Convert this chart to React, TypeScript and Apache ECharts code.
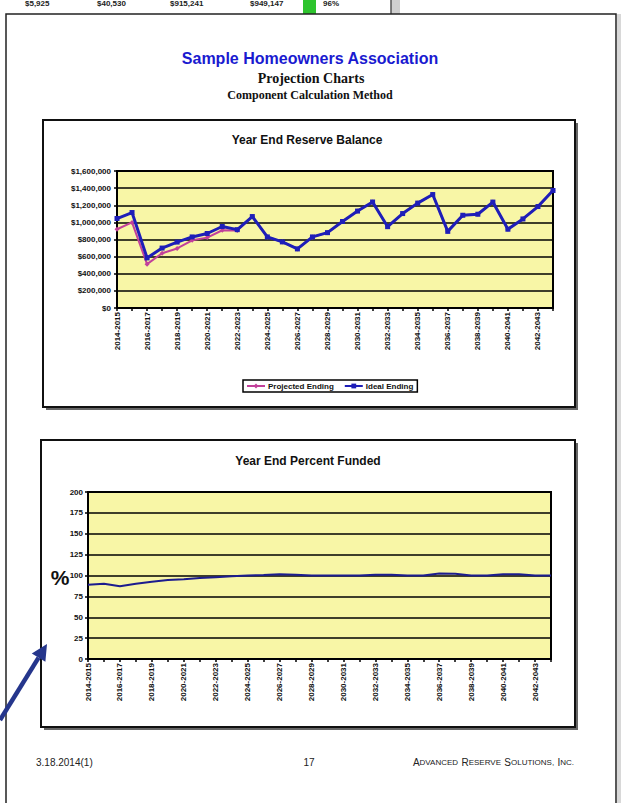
import React, { useEffect, useRef } from "react";
import * as echarts from "echarts";

const categories = [
  "2014-2015", "2015-2016", "2016-2017", "2017-2018", "2018-2019", "2019-2020",
  "2020-2021", "2021-2022", "2022-2023", "2023-2024", "2024-2025", "2025-2026",
  "2026-2027", "2027-2028", "2028-2029", "2029-2030", "2030-2031", "2031-2032",
  "2032-2033", "2033-2034", "2034-2035", "2035-2036", "2036-2037", "2037-2038",
  "2038-2039", "2039-2040", "2040-2041", "2041-2042", "2042-2043", "2043-2044",
];

const projectedEnding = [
  920000, 1000000, 512000, 640000, 695000, 790000, 822000, 908000, 905000, 1068000,
  830000, 772000, 690000, 830000, 880000, 1010000, 1132000, 1238000, 950000, 1103000,
  1225000, 1325000, 895000, 1083000, 1095000, 1237000, 920000, 1040000, 1185000, 1372000,
];

const idealEnding = [
  1045000, 1115000, 585000, 700000, 770000, 830000, 870000, 952000, 915000, 1068000,
  830000, 772000, 690000, 830000, 880000, 1010000, 1132000, 1238000, 950000, 1103000,
  1225000, 1325000, 895000, 1083000, 1095000, 1237000, 920000, 1040000, 1185000, 1372000,
];

const percentFunded = [
  89, 90, 87, 90, 92.5, 94.5, 95.5, 97, 98, 99,
  100, 100.5, 101.5, 101, 100, 100, 100, 100, 101, 101,
  100, 100, 102.5, 102, 100, 100, 101.5, 101.5, 100, 100,
];

const balanceTicks = [0, 200000, 400000, 600000, 800000, 1000000, 1200000, 1400000, 1600000];
const percentTicks = [0, 25, 50, 75, 100, 125, 150, 175, 200];

const topRowTexts = ["$5,925", "$40,530", "$915,241", "$949,147", "96%"];

const YELLOW = "#F8F6A6";
const FONT = "'Liberation Sans', Arial, sans-serif";
const SERIF = "'Liberation Serif', 'Times New Roman', serif";

function fmtMoney(v: number) {
  return "$" + v.toLocaleString("en-US");
}

export default function App() {
  const ref = useRef<HTMLDivElement>(null);
  useEffect(() => {
    if (!ref.current) return;
    const chart = echarts.init(ref.current, undefined, { renderer: "svg" });

    // arrow geometry (decoration)
    const tip = [47, 644];
    const tail = [0, 720];
    const dx = tip[0] - tail[0];
    const dy = tip[1] - tail[1];
    const len = Math.sqrt(dx * dx + dy * dy);
    const ux = dx / len, uy = dy / len;
    const px = -uy, py = ux;
    const headLen = 16, headW = 8;
    const base = [tip[0] - ux * headLen, tip[1] - uy * headLen];

    const topRowX = [25, 97, 170, 250, 323];

    const xAxisCommon = {
      type: "category" as const,
      data: categories,
      boundaryGap: false,
      z: 12,
      axisLine: { show: true, lineStyle: { color: "#000", width: 2 } },
      axisTick: { show: true, interval: 0, length: 3, lineStyle: { color: "#000", width: 1.5 } },
      axisLabel: {
        interval: 1,
        rotate: 90,
        fontSize: 8,
        fontWeight: "bold" as const,
        color: "#111",
        fontFamily: FONT,
        margin: 4,
      },
      splitLine: { show: false },
    };

    const option: any = {
      animation: false,
      backgroundColor: "#ffffff",
      grid: [
        {
          left: 117, top: 171, width: 436, height: 137, z: 10,
          show: true, backgroundColor: YELLOW, borderColor: "#000", borderWidth: 2,
        },
        {
          left: 88, top: 492, width: 463, height: 167, z: 10,
          show: true, backgroundColor: YELLOW, borderColor: "#000", borderWidth: 2,
        },
      ],
      xAxis: [
        { ...xAxisCommon, gridIndex: 0 },
        { ...xAxisCommon, gridIndex: 1 },
      ],
      yAxis: [
        {
          type: "value", gridIndex: 0, z: 12,
          min: balanceTicks[0], max: balanceTicks[balanceTicks.length - 1],
          interval: balanceTicks[1] - balanceTicks[0],
          axisLine: { show: true, lineStyle: { color: "#000", width: 2 } },
          axisTick: { show: true, length: 3, lineStyle: { color: "#000", width: 1.5 } },
          axisLabel: {
            formatter: (v: number) => fmtMoney(v),
            fontSize: 8, fontWeight: "bold", color: "#111", fontFamily: FONT, margin: 6,
          },
          splitLine: { show: true, lineStyle: { color: "#000", width: 1.5 } },
        },
        {
          type: "value", gridIndex: 1, z: 12,
          min: percentTicks[0], max: percentTicks[percentTicks.length - 1],
          interval: percentTicks[1] - percentTicks[0],
          axisLine: { show: true, lineStyle: { color: "#000", width: 2 } },
          axisTick: { show: true, length: 3, lineStyle: { color: "#000", width: 1.5 } },
          axisLabel: {
            fontSize: 8, fontWeight: "bold", color: "#111", fontFamily: FONT, margin: 5,
          },
          splitLine: { show: true, lineStyle: { color: "#000", width: 1.5 } },
        },
      ],
      legend: {
        left: 243, top: 380, z: 20,
        data: ["Projected Ending", "Ideal Ending"],
        orient: "horizontal",
        itemWidth: 18, itemHeight: 6, itemGap: 10,
        padding: [2, 4, 2, 3],
        borderColor: "#000", borderWidth: 1.5, backgroundColor: "#fff",
        textStyle: { fontSize: 8, fontWeight: "bold", color: "#111", fontFamily: FONT, padding: [0, 0, 0, -2] },
      },
      series: [
        {
          name: "Projected Ending", type: "line", xAxisIndex: 0, yAxisIndex: 0,
          data: projectedEnding,
          symbol: "diamond", symbolSize: 5, showSymbol: true,
          lineStyle: { color: "#C2409A", width: 2 },
          itemStyle: { color: "#C2409A" },
          z: 14,
        },
        {
          name: "Ideal Ending", type: "line", xAxisIndex: 0, yAxisIndex: 0,
          data: idealEnding,
          symbol: "rect", symbolSize: 5, showSymbol: true,
          lineStyle: { color: "#1E1EB8", width: 3 },
          itemStyle: { color: "#1E1EB8" },
          z: 15,
        },
        {
          name: "Percent Funded", type: "line", xAxisIndex: 1, yAxisIndex: 1,
          data: percentFunded,
          symbol: "none",
          lineStyle: { color: "#1C1C8E", width: 2 },
          z: 15,
        },
      ],
      graphic: {
        elements: [
          // top strip of previous page table
          ...topRowTexts.map((t, i) => ({
            type: "text", x: topRowX[i], y: 3, z: 1,
            style: { text: t, font: `bold 8px ${FONT}`, fill: "#222", verticalAlign: "middle" },
          })),
          { type: "rect", z: 1, shape: { x: 303, y: 0, width: 13, height: 16 }, style: { fill: "#2EC42E" } },
          { type: "rect", z: 1, shape: { x: 391, y: 0, width: 9, height: 16 }, style: { fill: "#cfcfcf" } },
          { type: "line", z: 1, shape: { x1: 391, y1: 0, x2: 391, y2: 16 }, style: { stroke: "#555", lineWidth: 1.5 } },
          // page
          { type: "rect", z: 2, shape: { x: 6, y: 14, width: 610, height: 800 }, style: { fill: "#fff", stroke: "#222", lineWidth: 1.5 } },
          { type: "rect", z: 2, shape: { x: 617, y: 14, width: 4, height: 789 }, style: { fill: "#d8d8d8" } },
          // headings
          { type: "text", x: 310, y: 58, z: 30, style: { text: "Sample Homeowners Association", font: `bold 16px ${FONT}`, fill: "#1A1AD0", align: "center", verticalAlign: "middle" } },
          { type: "text", x: 311, y: 78, z: 30, style: { text: "Projection Charts", font: `bold 14px ${SERIF}`, fill: "#111", align: "center", verticalAlign: "middle" } },
          { type: "text", x: 310, y: 95, z: 30, style: { text: "Component Calculation Method", font: `bold 12px ${SERIF}`, fill: "#111", align: "center", verticalAlign: "middle" } },
          // chart 1 box
          { type: "rect", z: 3, shape: { x: 46, y: 123, width: 532, height: 287 }, style: { fill: "#666" } },
          { type: "rect", z: 4, shape: { x: 43, y: 120, width: 532, height: 287 }, style: { fill: "#fff", stroke: "#111", lineWidth: 2 } },
          { type: "text", x: 307, y: 140, z: 30, style: { text: "Year End Reserve Balance", font: `bold 12px ${FONT}`, fill: "#111", align: "center", verticalAlign: "middle" } },
          // chart 2 box
          { type: "rect", z: 3, shape: { x: 44, y: 443, width: 534, height: 287 }, style: { fill: "#666" } },
          { type: "rect", z: 4, shape: { x: 41, y: 440, width: 534, height: 287 }, style: { fill: "#fff", stroke: "#111", lineWidth: 2 } },
          { type: "text", x: 308, y: 461, z: 30, style: { text: "Year End Percent Funded", font: `bold 12px ${FONT}`, fill: "#111", align: "center", verticalAlign: "middle" } },
          { type: "text", x: 60, y: 577, z: 30, style: { text: "%", font: `bold 21px ${FONT}`, fill: "#111", align: "center", verticalAlign: "middle" } },
          // footer
          { type: "text", x: 36, y: 762, z: 30, style: { text: "3.18.2014(1)", font: `10px ${FONT}`, fill: "#222", verticalAlign: "middle" } },
          { type: "text", x: 309, y: 762, z: 30, style: { text: "17", font: `10px ${FONT}`, fill: "#222", align: "center", verticalAlign: "middle" } },
          {
            type: "text", x: 574, y: 762, z: 30,
            style: {
              text: "{b|A}{s|DVANCED} {b|R}{s|ESERVE} {b|S}{s|OLUTIONS,} {b|I}{s|NC.}",
              align: "right", verticalAlign: "middle",
              rich: {
                b: { font: `10px ${FONT}`, fill: "#222" },
                s: { font: `8px ${FONT}`, fill: "#222" },
              },
            },
          },
          // arrow
          {
            type: "line", z: 30,
            shape: { x1: tail[0], y1: tail[1], x2: base[0], y2: base[1] },
            style: { stroke: "#25368C", lineWidth: 4.5 },
          },
          {
            type: "polygon", z: 30,
            shape: {
              points: [
                [tip[0], tip[1]],
                [base[0] + px * headW, base[1] + py * headW],
                [base[0] - px * headW, base[1] - py * headW],
              ],
            },
            style: { fill: "#25368C" },
          },
        ],
      },
    };

    chart.setOption(option);
    return () => chart.dispose();
  }, []);

  return (
    <div
      ref={ref}
      style={{ position: "absolute", left: 0, top: 0, width: 621, height: 803 }}
    />
  );
}
